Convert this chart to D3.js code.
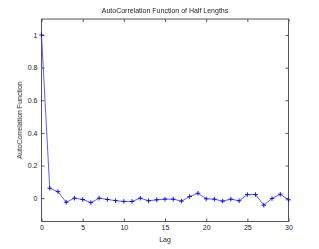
<!DOCTYPE html>
<html>
<head>
<meta charset="utf-8">
<script src="https://cdn.jsdelivr.net/npm/d3@7"></script>
<style>
  body { margin: 0; background: #fff; color: #222; }
  svg text { font-family: "Liberation Sans", Arial, sans-serif; }
</style>
</head>
<body>
<svg></svg>
<script>
const size = {w: 319, h: 249};
const margin = {t: 19, r: 30.5, b: 27.5, l: 41.5};

// chart data
const lags = d3.range(0, 31);
const acf = [1, 0.061, 0.04, -0.025, 0, -0.008, -0.027, 0, -0.008, -0.015, -0.02,
    -0.02, 0, -0.016, -0.01, -0.006, -0.006, -0.018, 0.01, 0.03, -0.004,
    -0.006, -0.018, -0.006, -0.016, 0.022, 0.022, -0.043, -0.002, 0.024, -0.01];
const xTicks = [0, 5, 10, 15, 20, 25, 30];
const yTicks = [0, 0.2, 0.4, 0.6, 0.8, 1];
const title = 'AutoCorrelation Function of Half Lengths';

const svg = d3.select('svg').attr('width', size.w).attr('height', size.h);
const w = size.w - margin.l - margin.r;
const h = size.h - margin.t - margin.b;

const x = d3.scaleLinear().domain([0, 30]).range([margin.l, margin.l + w]);
const y = d3.scaleLinear().domain([-0.143, 1.098]).range([margin.t + h, margin.t]);

const axisColor = '#555';
const textColor = '#222';
const tl = 3;

// box
svg.append('rect')
    .attr('x', margin.l).attr('y', margin.t)
    .attr('width', w).attr('height', h)
    .attr('fill', 'none').attr('stroke', axisColor).attr('stroke-width', 1);

function styleAxis(g) {
    g.select('.domain').remove();
    g.selectAll('line').attr('stroke', axisColor);
    g.selectAll('text').style('font-size', '7px').attr('fill', textColor);
}

svg.append('g')
    .attr('transform', `translate(0,${margin.t + h})`)
    .call(d3.axisBottom(x).tickValues(xTicks).tickSizeInner(-tl).tickSizeOuter(0).tickPadding(4))
    .call(styleAxis);
svg.append('g')
    .attr('transform', `translate(0,${margin.t})`)
    .call(d3.axisTop(x).tickValues(xTicks).tickSizeInner(-tl).tickSizeOuter(0).tickFormat(''))
    .call(styleAxis);
svg.append('g')
    .attr('transform', `translate(${margin.l},0)`)
    .call(d3.axisLeft(y).tickValues(yTicks).tickSizeInner(-tl).tickSizeOuter(0).tickPadding(4).tickFormat(d3.format('~g')))
    .call(styleAxis);
svg.append('g')
    .attr('transform', `translate(${margin.l + w},0)`)
    .call(d3.axisRight(y).tickValues(yTicks).tickSizeInner(-tl).tickSizeOuter(0).tickFormat(''))
    .call(styleAxis);

// line
const pts = lags.map((l, i) => [l, acf[i]]);
svg.append('path')
    .datum(pts)
    .attr('fill', 'none')
    .attr('stroke', '#3333ff')
    .attr('stroke-width', 0.8)
    .attr('d', d3.line().x(d => x(d[0])).y(d => y(d[1])));

// plus markers
const m = 2.3;
svg.append('g').selectAll('path.mk')
    .data(pts)
    .join('path')
    .attr('d', d => `M${x(d[0]) - m},${y(d[1])}h${2 * m}M${x(d[0])},${y(d[1]) - m}v${2 * m}`)
    .attr('stroke', '#0000ff')
    .attr('stroke-width', 0.9);

// labels
const labelsG = svg.append('g')
    .attr('transform', 'translate(0,0)')
    .style('opacity', 0.99);
labelsG.append('text')
    .attr('x', margin.l + w / 2).attr('y', 13)
    .attr('text-anchor', 'middle')
    .attr('fill', textColor)
    .style('font-size', '7px')
    .text(title);
labelsG.append('text')
    .attr('x', margin.l + w / 2).attr('y', 242)
    .attr('text-anchor', 'middle')
    .attr('fill', textColor)
    .style('font-size', '7px')
    .text('Lag');
labelsG.append('text')
    .attr('transform', `translate(22,${margin.t + h / 2}) rotate(-90)`)
    .attr('text-anchor', 'middle')
    .attr('fill', textColor)
    .style('font-size', '7px')
    .text('AutoCorrelation Function');
</script>
</body>
</html>
